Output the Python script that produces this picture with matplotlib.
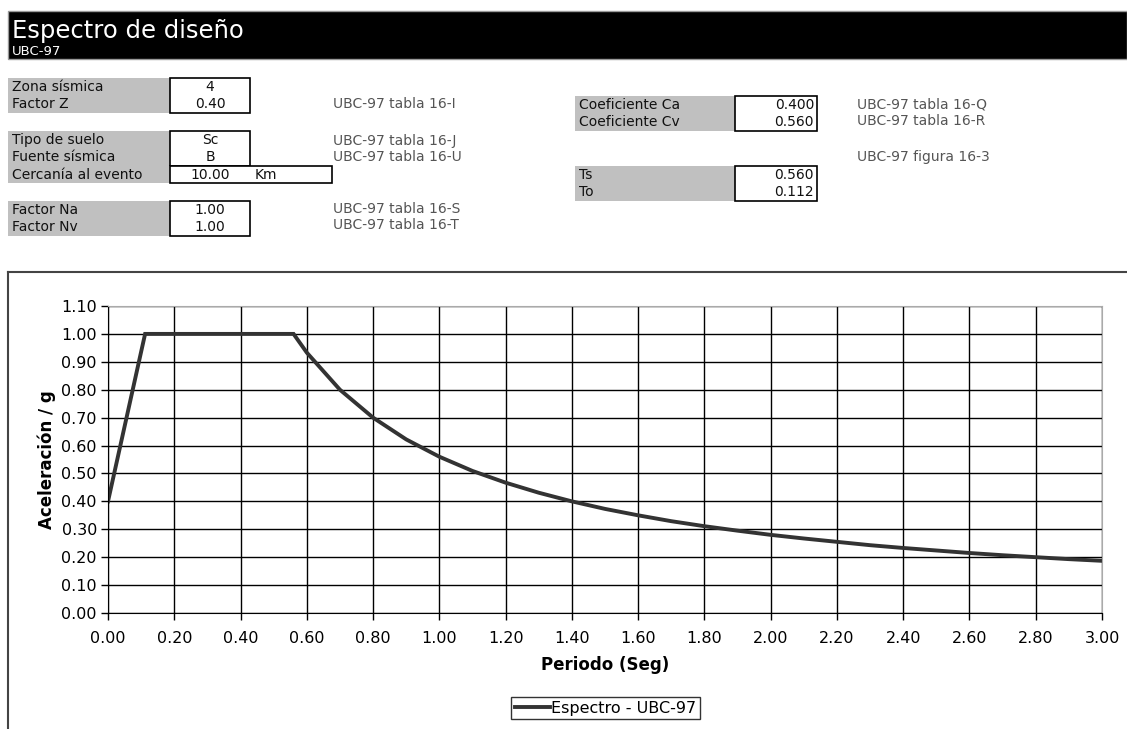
import matplotlib.pyplot as plt
from matplotlib.patches import Rectangle
from matplotlib.lines import Line2D

# spectrum data (periodo, aceleracion)
periodo = [0.0, 0.1, 0.112, 0.2, 0.3, 0.4, 0.5, 0.56, 0.6, 0.7, 0.8, 0.9,
           1.0, 1.1, 1.2, 1.3, 1.4, 1.5, 1.6, 1.7, 1.8, 1.9, 2.0, 2.1, 2.2,
           2.3, 2.4, 2.5, 2.6, 2.7, 2.8, 2.9, 3.0]
aceleracion = [0.40, 0.936, 1.0, 1.0, 1.0, 1.0, 1.0, 1.0, 0.933, 0.80, 0.70,
               0.622, 0.56, 0.509, 0.467, 0.431, 0.40, 0.373, 0.35, 0.329,
               0.311, 0.295, 0.28, 0.267, 0.255, 0.243, 0.233, 0.224, 0.215,
               0.207, 0.20, 0.193, 0.187]

# input table
labels_1 = ["Zona sísmica", "Factor Z"]
values_1 = ["4", "0.40"]
labels_2 = ["Tipo de suelo", "Fuente sísmica", "Cercanía al evento"]
values_2 = ["Sc", "B", "10.00"]
labels_3 = ["Factor Na", "Factor Nv"]
values_3 = ["1.00", "1.00"]
labels_4 = ["Coeficiente Ca", "Coeficiente Cv"]
values_4 = ["0.400", "0.560"]
labels_5 = ["Ts", "To"]
values_5 = ["0.560", "0.112"]
refs = [("UBC-97 tabla 16-I", 333, 104), ("UBC-97 tabla 16-J", 333, 141),
        ("UBC-97 tabla 16-U", 333, 157), ("UBC-97 tabla 16-S", 333, 209),
        ("UBC-97 tabla 16-T", 333, 225), ("UBC-97 tabla 16-Q", 857, 104),
        ("UBC-97 tabla 16-R", 857, 121), ("UBC-97 figura 16-3", 857, 157)]

W, H = 1127, 729
fig = plt.figure(figsize=(W / 100, H / 100), dpi=100)

# overlay in pixel coords for the sheet stuff
bg = fig.add_axes([0, 0, 1, 1])
bg.set_xlim(0, W)
bg.set_ylim(H, 0)
bg.axis("off")

# header
bg.add_patch(Rectangle((8, 11), W - 8, 48, facecolor="black", edgecolor="#999999", lw=1))
bg.text(12, 38, "Espectro de diseño", color="white", fontsize=17.5, va="baseline")
bg.text(12, 55, "UBC-97", color="white", fontsize=9.5, va="baseline")

fs = 10
row = 16.5


def block(x0, xg, y0, labels, values, align="center", boxw=80):
    n = len(labels)
    h = n * row + 2
    bg.add_patch(Rectangle((x0, y0), xg - x0, h, facecolor="#c0c0c0", edgecolor="none"))
    bg.add_patch(Rectangle((xg, y0), boxw, h, facecolor="white", edgecolor="black", lw=1.2))
    for i, (lab, val) in enumerate(zip(labels, values)):
        yy = y0 + row * i + row / 2 + 1
        bg.text(x0 + 4, yy, lab, fontsize=fs, va="center", color="#111111")
        if align == "center":
            bg.text(xg + boxw / 2, yy, val, fontsize=fs, va="center", ha="center", color="#111111")
        else:
            bg.text(xg + boxw - 3, yy, val, fontsize=fs, va="center", ha="right", color="#111111")


block(8, 170, 78, labels_1, values_1)
block(8, 170, 131, labels_2[:2], values_2[:2])
# cercania row
bg.add_patch(Rectangle((8, 166), 162, 17, facecolor="#c0c0c0", edgecolor="none"))
bg.add_patch(Rectangle((170, 166), 162, 17, facecolor="white", edgecolor="black", lw=1.2))
bg.text(12, 174.5, labels_2[2], fontsize=fs, va="center", color="#111111")
bg.text(210, 174.5, values_2[2], fontsize=fs, va="center", ha="center", color="#111111")
bg.text(255, 174.5, "Km", fontsize=fs, va="center", color="#111111")
block(8, 170, 201, labels_3, values_3)
block(575, 735, 96, labels_4, values_4, align="right", boxw=82)
block(575, 735, 166, labels_5, values_5, align="right", boxw=82)

for txt, x, y in refs:
    bg.text(x, y, txt, fontsize=fs, va="center", color="#555555")

# chart frame
bg.plot([8, W], [272, 272], color="#444444", lw=1.5)
bg.plot([8, 8], [272, H], color="#444444", lw=1.5)

# chart
ax = fig.add_axes([108 / W, (H - 613) / H, (1102 - 108) / W, (613 - 306) / H])
ax.plot(periodo, aceleracion, color="#333333", lw=2.8, solid_joinstyle="miter")
ax.set_xlim(0, 3.0)
ax.set_ylim(0, 1.10)
ax.set_xticks([i * 0.2 for i in range(16)])
ax.set_yticks([i * 0.1 for i in range(12)])
ax.set_xticklabels([f"{i * 0.2:.2f}" for i in range(16)])
ax.set_yticklabels([f"{i * 0.1:.2f}" for i in range(12)])
ax.grid(True, color="black", lw=1)
ax.set_axisbelow(True)
ax.tick_params(direction="out", length=5, width=1, labelsize=11.5, colors="black", pad=3)
ax.tick_params(axis="x", pad=8)
for s in ["top", "right"]:
    ax.spines[s].set_color("#aaaaaa")
for s in ["left", "bottom"]:
    ax.spines[s].set_color("black")
ax.set_xlabel("Periodo (Seg)", fontsize=12, fontweight="bold", labelpad=7)
ax.set_ylabel("Aceleración / g", fontsize=12, fontweight="bold", labelpad=4)

handle = Line2D([], [], color="#333333", lw=2.8)
leg = fig.legend([handle], ["Espectro - UBC-97"], loc="center",
                 bbox_to_anchor=(605.5 / W, 1 - 708 / H), fontsize=11.5,
                 frameon=True, fancybox=False, edgecolor="black",
                 handlelength=2.2, handletextpad=0.1, borderpad=0.25,
                 borderaxespad=0)
leg.get_frame().set_linewidth(1)

fig.savefig("out.png", dpi=100)
